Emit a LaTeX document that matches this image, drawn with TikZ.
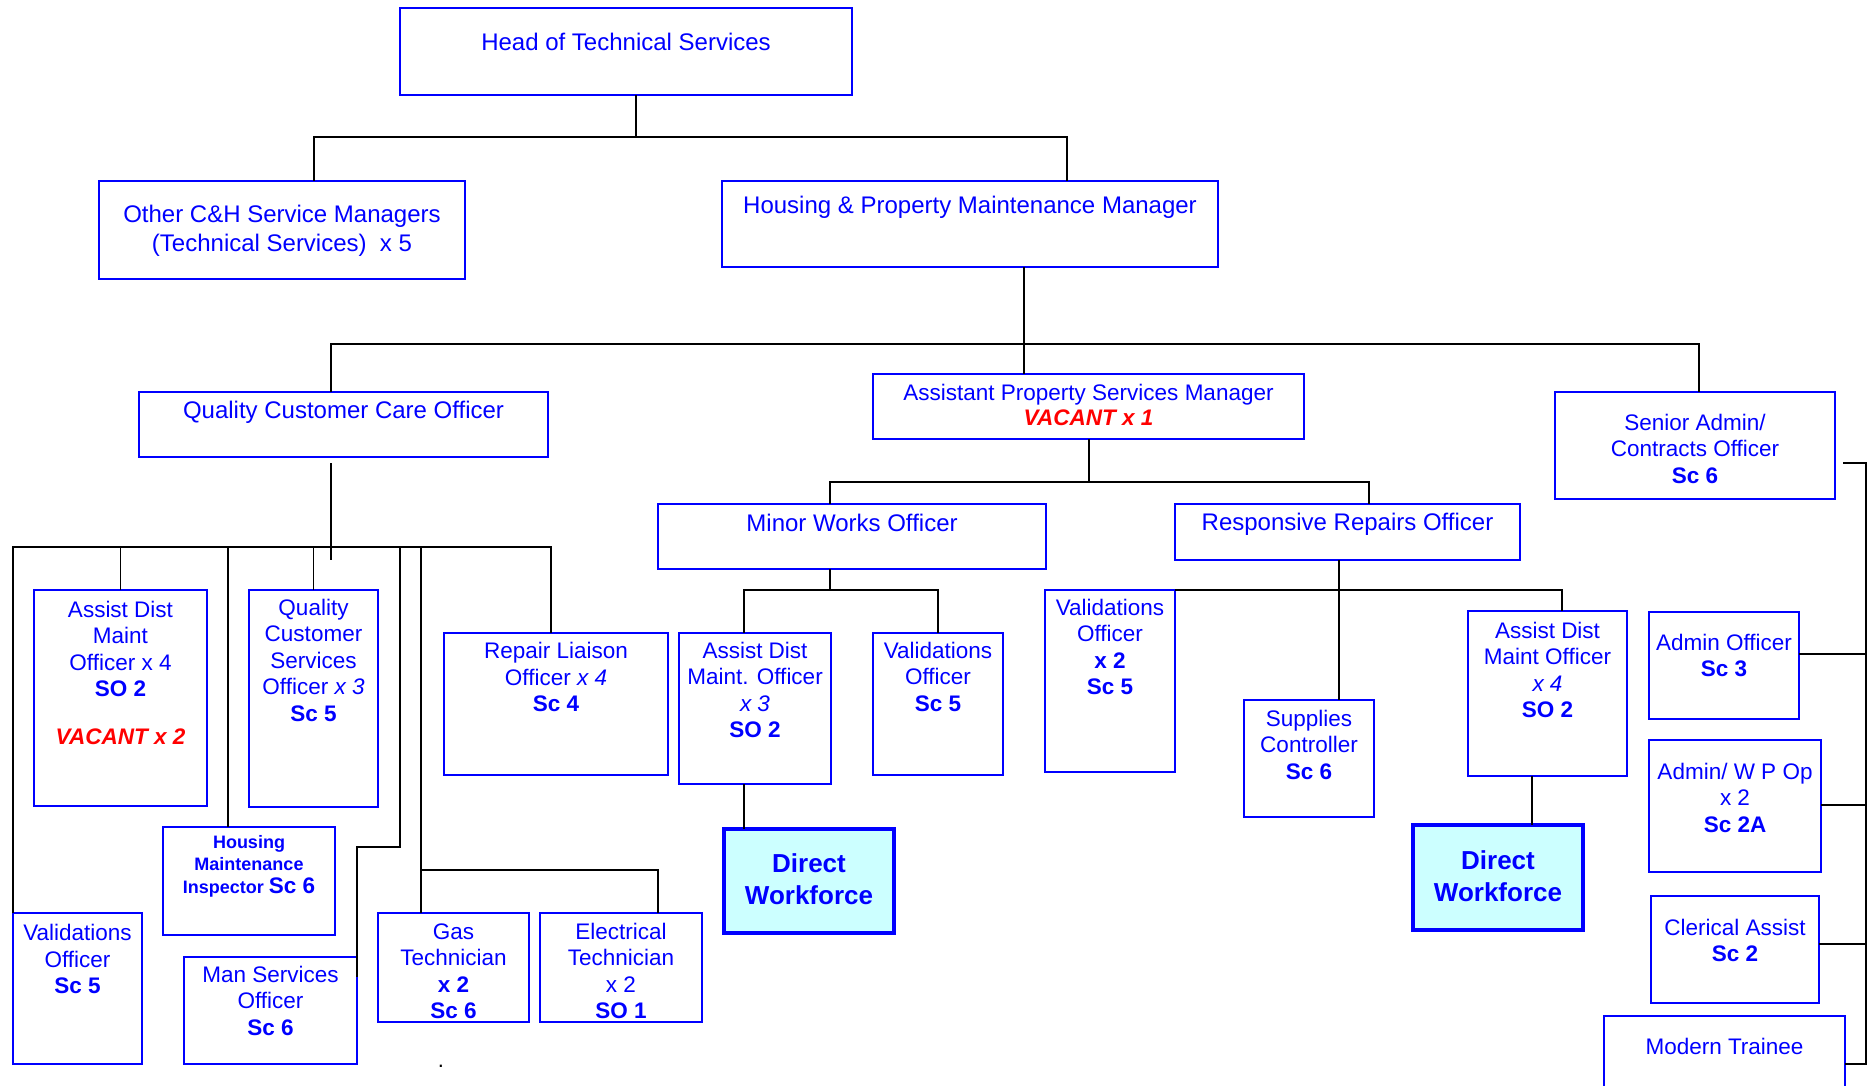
\documentclass[tikz,border=0pt]{standalone}
\usepackage{fontspec}
\setmainfont{Liberation Sans}
\usepackage{xcolor}
\usetikzlibrary{positioning}
\definecolor{hblue}{RGB}{0,0,255}
\definecolor{vred}{RGB}{255,0,0}
\definecolor{dwcyan}{RGB}{204,255,255}

\begin{document}
\begin{tikzpicture}[
    x=1pt, y=-1pt,
    obox/.style={rectangle, draw=hblue, line width=1.8pt, anchor=north west, inner sep=0pt, outer sep=0pt},
    dwbox/.style={obox, line width=4pt, fill=dwcyan},
    sz/.style 2 args={minimum width=#1pt, minimum height=#2pt},
    btxt/.style={text=hblue, align=center, inner sep=0pt, font=\fontsize{24}{29}\selectfont},
    stxt/.style={btxt, font=\fontsize{22.5}{26.5}\selectfont},
    ln/.style={line width=1.7pt, color=black}
]
\useasboundingbox (0,0) rectangle (1869,1085);

\node[obox, sz={452}{87}] (head) at (400,8) {};
\node[btxt, below=25pt of head.north] (head_t) {Head of Technical Services};
\node[obox, sz={366}{98}] (other) at (99,181) {};
\node[btxt, below=24pt of other.north] (other_t) {Other C\&H Service Managers\\(Technical Services)\ \ x 5};
\node[obox, sz={496}{86}] (hpmm) at (722,181) {};
\node[btxt, below=15pt of hpmm.north] (hpmm_t) {Housing \& Property Maintenance Manager};

\node[obox, sz={409}{65}] (qcc) at (139,392) {};
\node[btxt, below=9pt of qcc.north] (qcc_t) {Quality Customer Care Officer};
\node[obox, sz={431}{65}] (apsm) at (873,374) {};
\node[stxt, font=\fontsize{22.5}{25}\selectfont, below=10pt of apsm.north] (apsm_t) {Assistant Property Services Manager\\\textcolor{vred}{\textbf{\textit{VACANT x 1}}}};
\node[obox, sz={280}{107}] (senior) at (1555,392) {};
\node[stxt, below=21.7pt of senior.north] (senior_t) {Senior Admin/\\Contracts Officer\\\textbf{Sc 6}};

\node[obox, sz={388}{65}] (mwo) at (658,504) {};
\node[btxt, below=10pt of mwo.north] (mwo_t) {Minor Works Officer};
\node[obox, sz={345}{56}] (rro) at (1175,504) {};
\node[btxt, below=9pt of rro.north] (rro_t) {Responsive Repairs Officer};

\node[obox, sz={173}{216}] (qcc_admo) at (34,590) {};
\node[stxt, below=10.7pt of qcc_admo.north] (qcc_admo_t) {Assist Dist\\Maint\\Officer x 4\\\textbf{SO 2}\\[21pt]\textcolor{vred}{\textbf{\textit{VACANT x 2}}}};
\node[obox, sz={129}{217}] (qcso) at (249,590) {};
\node[stxt, below=8.7pt of qcso.north] (qcso_t) {Quality\\Customer\\Services\\Officer \textit{x 3}\\\textbf{Sc 5}};
\node[obox, sz={224}{142}] (liaison) at (444,633) {};
\node[stxt, below=9.2pt of liaison.north] (liaison_t) {Repair Liaison\\Officer \textit{x 4}\\\textbf{Sc 4}};
\node[obox, sz={172}{108}] (inspector) at (163,827) {};
\node[btxt, font=\fontsize{18}{22.5}\selectfont\bfseries, below=8pt of inspector.north] (inspector_t) {Housing\\Maintenance\\Inspector {\fontsize{22.5}{26.5}\selectfont Sc 6}};
\node[obox, sz={129}{151}] (qcc_val) at (13,913) {};
\node[stxt, below=11.2pt of qcc_val.north] (qcc_val_t) {Validations\\Officer\\\textbf{Sc 5}};
\node[obox, sz={173}{107}] (manserv) at (184,957) {};
\node[stxt, below=8.7pt of manserv.north] (manserv_t) {Man Services\\Officer\\\textbf{Sc 6}};
\node[obox, sz={151}{109}] (gas) at (378,913) {};
\node[stxt, below=10.2pt of gas.north] (gas_t) {Gas\\Technician\\\textbf{x 2}\\\textbf{Sc 6}};
\node[obox, sz={162}{109}] (elec) at (540,913) {};
\node[stxt, below=9.7pt of elec.north] (elec_t) {Electrical\\Technician\\x 2\\\textbf{SO 1}};

\node[obox, sz={152}{151}] (mwo_admo) at (679,633) {};
\node[stxt, below=8.7pt of mwo_admo.north] (mwo_admo_t) {Assist Dist\\Maint. Officer\\\textit{x 3}\\\textbf{SO 2}};
\node[obox, sz={130}{142}] (mwo_val) at (873,633) {};
\node[stxt, below=8.7pt of mwo_val.north] (mwo_val_t) {Validations\\Officer\\\textbf{Sc 5}};
\node[dwbox, sz={170}{104}] (dw1) at (724,829) {};
\node[btxt, font=\fontsize{26}{32}\selectfont\bfseries, below=24.4pt of dw1.north] (dw1_t) {Direct\\Workforce};

\node[obox, sz={130}{182}] (rro_val) at (1045,590) {};
\node[stxt, below=8.7pt of rro_val.north] (rro_val_t) {Validations\\Officer\\\textbf{x 2}\\\textbf{Sc 5}};
\node[obox, sz={130}{117}] (supplies) at (1244,700) {};
\node[stxt, below=9.7pt of supplies.north] (supplies_t) {Supplies\\Controller\\\textbf{Sc 6}};
\node[obox, sz={159}{165}] (rro_admo) at (1468,611) {};
\node[stxt, below=10.7pt of rro_admo.north] (rro_admo_t) {Assist Dist\\Maint Officer\\\textit{x 4}\\\textbf{SO 2}};
\node[dwbox, sz={170}{105}] (dw2) at (1413,825) {};
\node[btxt, font=\fontsize{26}{32}\selectfont\bfseries, below=25.4pt of dw2.north] (dw2_t) {Direct\\Workforce};

\node[obox, sz={150}{107}] (adminoff) at (1649,612) {};
\node[stxt, below=21.7pt of adminoff.north] (adminoff_t) {Admin Officer\\\textbf{Sc 3}};
\node[obox, sz={172}{132}] (wpop) at (1649,740) {};
\node[stxt, below=22.7pt of wpop.north] (wpop_t) {Admin/ W P Op\\x 2\\\textbf{Sc 2A}};
\node[obox, sz={168}{107}] (clerical) at (1651,896) {};
\node[stxt, below=22.7pt of clerical.north] (clerical_t) {Clerical Assist\\\textbf{Sc 2}};
\node[obox, sz={241}{96}] (trainee) at (1604,1016) {};
\node[stxt, below=21.7pt of trainee.north] (trainee_t) {Modern Trainee};

\node[inner sep=0pt, font=\fontsize{22}{26}\selectfont] (dot) at (441,1066) {.};

\coordinate (qbus) at ([shift={(-12.5,90)}]qcc.south);
\coordinate (tbus) at ([shift={(-32.5,-43)}]gas.north);
\coordinate (mbend) at ([shift={(43,-163.5)}]manserv.east);
\coordinate (spine) at ([xshift=21]trainee.east);

\draw[ln] ([xshift=10]head.south) -- ++(0,42) -| ([xshift=32]other.north);
\draw[ln] ([xshift=10]head.south) -- ++(0,42) -| ([xshift=97]hpmm.north);
\draw[ln] ([xshift=54]hpmm.south) -- ([xshift=-64.5]apsm.north);
\draw[ln] ([xshift=-12.5]qcc.north) -- ++(0,-48) -| ([xshift=4]senior.north);
\draw[ln] ([xshift=0.5]apsm.south) -- ++(0,43) -| ([xshift=-22]mwo.north);
\draw[ln] ([xshift=0.5]apsm.south) -- ++(0,43) -| ([xshift=21.5]rro.north);
\draw[ln] ([xshift=-22]mwo.south) -- ++(0,21) -| ([xshift=-11]mwo_admo.north);
\draw[ln] ([xshift=-22]mwo.south) -- ++(0,21) -| (mwo_val.north);
\draw[ln] ([xshift=-11]mwo_admo.south) -- ([xshift=-65]dw1.north);
\draw[ln] ([xshift=-8.5]rro.south) -- ([xshift=30]supplies.north);
\draw[ln] (rro_val.north east) -| ([xshift=14.5]rro_admo.north);
\draw[ln] ([xshift=-15.5]rro_admo.south) -- ([xshift=34]dw2.north);

\draw[ln] ([shift={(-12.5,6)}]qcc.south) -- ([yshift=-13pt]qbus);
\draw[ln] (qcc_val.north west) |- (qbus) -| ([xshift=-5]liaison.north);
\draw[ln] (qcc_admo.north) |- (qbus);
\draw[ln] (qcso.north) |- (qbus);
\draw[ln] ([xshift=-21]inspector.north) |- (qbus);
\draw[ln] ([shift={(0,-33.5)}]manserv.east) |- (mbend) |- (qbus);
\draw[ln] ([xshift=-32.5]gas.north) |- (qbus);
\draw[ln] ([xshift=37]elec.north) |- (tbus);

\draw[ln] ([shift={(8,17.5)}]senior.east) -| (spine) -- (trainee.east);
\draw[ln] ([shift={(0,-11.5)}]adminoff.east) -| (spine);
\draw[ln] ([shift={(0,-1)}]wpop.east) -| (spine);
\draw[ln] ([shift={(0,-5.5)}]clerical.east) -| (spine);

\end{tikzpicture}
\end{document}
